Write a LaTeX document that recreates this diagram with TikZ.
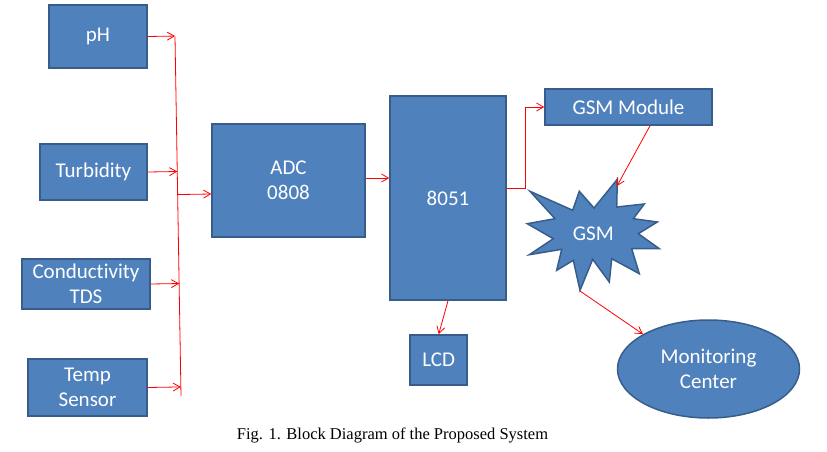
\documentclass[tikz,border=0pt]{standalone}
\usepackage{fontspec}
\setmainfont{Carlito}[Ligatures=NoCommon]
\newfontfamily\capfont{Liberation Serif}
\usetikzlibrary{arrows.meta,calc,shapes.geometric}
\definecolor{boxblue}{RGB}{79,129,189}
\definecolor{boxline}{RGB}{56,93,138}
\tikzset{
  block/.style={draw=boxline,fill=boxblue,line width=1.5pt,text=white,
    font=\fontsize{21}{25}\selectfont,align=center,inner sep=0pt},
  burst/.style={draw=boxline,fill=boxblue,line width=1.5pt,line join=miter},
  link/.style={red,line width=0.8pt,-{Straight Barb[length=7pt,width=8pt]}}
}
\begin{document}
\begin{tikzpicture}[x=1pt,y=-1pt]
\useasboundingbox (0,0) rectangle (827,452);
% sensors
\node[block,minimum width=98,minimum height=63] (ph) at (98,36.5) {pH};
\node[block,minimum width=107,minimum height=56] (turb) at (93.5,172) {Turbidity};
\node[block,minimum width=128,minimum height=50] (cond) at (86,284) {Conductivity\\TDS};
\node[block,minimum width=119,minimum height=57] (temp) at (87.5,387.5) {Temp\\Sensor};
% processing
\node[block,minimum width=153,minimum height=113] (adc) at (288.5,180.5) {ADC\\0808};
\node[block,minimum width=116,minimum height=204] (mcu) at (448,198) {8051};
\node[block,minimum width=57,minimum height=50] (lcd) at (438.7,360) {LCD};
\node[block,minimum width=167,minimum height=36] (gsmmod) at (628.5,107) {GSM Module};
\node[block,ellipse,minimum width=182,minimum height=98] (mon) at (708.5,369) {Monitoring\\Center};
% starburst
\draw[burst] (617.3,179.3) -- (616.7,207) -- (644.3,204) -- (633.3,218.7) -- (657.3,222)
  -- (638.3,233.7) -- (659.3,248.7) -- (631.7,248.7) -- (639.3,273.7) -- (611.7,258.7)
  -- (609.3,282) -- (592.7,259.3) -- (580,290.3) -- (573.3,260.3) -- (556.7,270.3)
  -- (561.7,249.3) -- (529.3,254.7) -- (553.3,238.7) -- (527.3,223.7) -- (555,218.7)
  -- (530,191.3) -- (572.7,210.3) -- (579.3,191.3) -- (594,208) -- cycle;
\node[text=white,font=\fontsize{21}{25}\selectfont] (gsm) at (593.3,234) {GSM};
\coordinate (gsmTop) at (617,186);
\coordinate (gsmBot) at (580,291);
% bus
\coordinate (busTop) at (175,36.5);
\coordinate (busBot) at (181,396);
\draw[red,line width=0.8pt] (busTop) -- (busBot);
\foreach \b in {ph,turb,cond,temp}
{
  \draw[link] (\b.east) -- ($(busTop)!(\b.east)!(busBot)$);
}
\coordinate (adcIn) at ([yshift=-13.5pt]adc.west);
\draw[link] ($(busTop)!(adcIn)!(busBot)$) -- (adcIn);
% links
\draw[link] ([yshift=2.5pt]adc.east) -- ([yshift=2.5pt]adc.east -| mcu.west);
\draw[link] ([yshift=10pt]mcu.east) -- ++(19,0) |- (gsmmod.west);
\draw[link] ([xshift=21.5pt]gsmmod.south) -- (gsmTop);
\draw[link] (gsmBot) -- (mon.152);
\draw[link] (mcu.south) -- (lcd.north);
% caption
\node[font=\capfont\fontsize{16.5}{20}\selectfont,anchor=base] (cap) at (392.5,439)
  {Fig. 1. Block Diagram of the Proposed System};
\end{tikzpicture}
\end{document}
